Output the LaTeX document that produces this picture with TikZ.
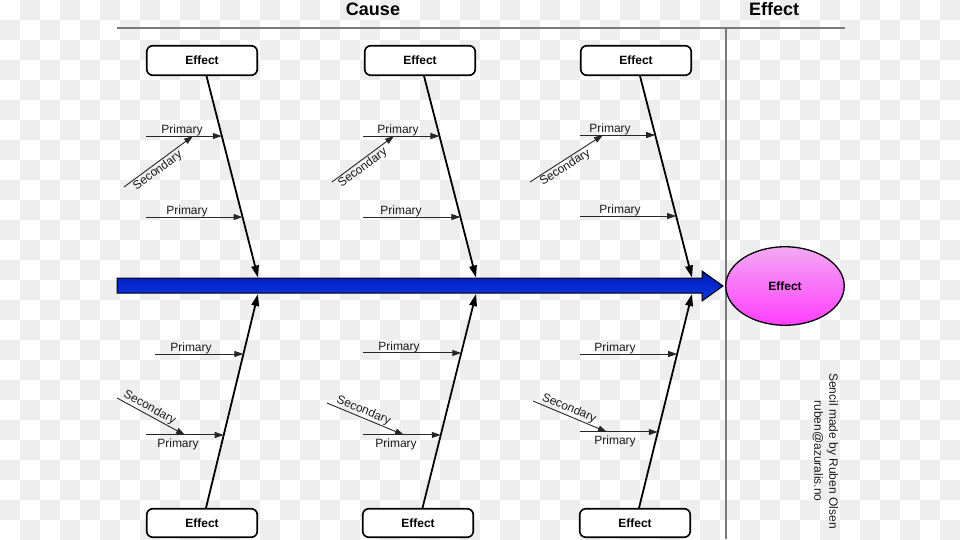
\documentclass[tikz,border=0pt]{standalone}
\usepackage{fontspec}
\setmainfont{Liberation Sans}
\usetikzlibrary{arrows.meta,calc,shapes.geometric}
\definecolor{chk}{HTML}{EEEEEE}
\definecolor{rulegray}{HTML}{7A7A7A}
\definecolor{spinetop}{HTML}{0018B4}
\definecolor{spinebot}{HTML}{0A3AE8}
\definecolor{pinktop}{HTML}{F3A8F3}
\definecolor{pinkbot}{HTML}{FF3EFF}
\begin{document}
\begin{tikzpicture}[x=1pt,y=-1pt,
  effbox/.style={draw=black,line width=1.6pt,rounded corners=6pt,fill=white,
    minimum width=110.5pt,minimum height=29.5pt,inner sep=0pt,
    font=\fontsize{12}{14}\selectfont\bfseries},
  bone/.style={draw=black,line width=1.8pt,-{Triangle[length=12pt,width=7.5pt]}},
  pri/.style={draw=black!85,line width=1pt,-{Triangle[length=9pt,width=6pt]}},
  sec/.style={draw=black!85,line width=0.9pt,-{Triangle[length=9pt,width=6pt]}},
  lbl/.style={font=\fontsize{12}{14}\selectfont,text=black!90,inner sep=0pt},
  ttl/.style={font=\fontsize{18}{20}\selectfont\bfseries,inner sep=0pt},
  rulel/.style={draw=rulegray,line width=1.5pt},
]
\useasboundingbox (0,0) rectangle (960,539);
\fill[white] (0,0) rectangle (960,539);
\begin{scope}
\clip (0,0) rectangle (960,539);
\foreach \j in {0,...,26}{
  \foreach \i in {0,...,47}{
    \ifodd\numexpr\i+\j\relax
      \fill[chk] (20*\i,20*\j) rectangle ++(20,20);
    \fi
  }
}
\end{scope}

% titles and rules
\node[ttl] (cause) at (373,9) {Cause};
\node[ttl] (efft) at (774,9) {Effect};
\coordinate (hl) at (117,28); \coordinate (hr) at (845,28);
\coordinate (vt) at (726,28); \coordinate (vb) at (726,539);
\draw[rulel] (hl) -- (hr);
\draw[rulel] (vt) -- (vb);

% spine
\coordinate (tip) at (723,286);
\draw[black,line width=1pt,top color=spinetop,bottom color=spinebot]
  (117,278) -- (702,278) -- (702,271) -- (tip) -- (702,301) -- (702,293) -- (117,293) -- cycle;

% effect ellipse
\node[ellipse,draw=black,line width=1.3pt,top color=pinktop,bottom color=pinkbot,
  minimum width=118.5pt,minimum height=78.5pt,inner sep=0pt,
  font=\fontsize{12}{14}\selectfont\bfseries] (eff) at (785,286) {Effect};

% boxes
\node[effbox] (e1) at (202,60.5) {Effect};
\node[effbox] (e2) at (420,60.5) {Effect};
\node[effbox] (e3) at (636,60.5) {Effect};
\node[effbox,minimum height=28.5pt] (f1) at (202,523) {Effect};
\node[effbox,minimum height=28.5pt] (f2) at (418,523) {Effect};
\node[effbox,minimum height=28.5pt] (f3) at (635,523) {Effect};

% spine attachment points
\coordinate (t1) at (258,277.5); \coordinate (t2) at (476,277.5); \coordinate (t3) at (692,277.5);
\coordinate (b1) at (258,294); \coordinate (b2) at (476,294); \coordinate (b3) at (692,294);
\coordinate (u1) at ([xshift=4.5pt]e1.south);
\coordinate (u2) at ([xshift=4pt]e2.south);
\coordinate (u3) at ([xshift=4pt]e3.south);
\coordinate (w1) at ([xshift=4pt]f1.north);
\coordinate (w2) at ([xshift=4.5pt]f2.north);
\coordinate (w3) at ([xshift=4pt]f3.north);

% bones
\draw[bone] (u1) -- (t1);
\draw[bone] (u2) -- (t2);
\draw[bone] (u3) -- (t3);
\draw[bone] (w1) -- (b1);
\draw[bone] (w2) -- (b2);
\draw[bone] (w3) -- (b3);

% points on bones
\coordinate (p1a) at ($(u1)!0.2978!(t1)$);
\coordinate (p1b) at ($(u1)!0.6998!(t1)$);
\coordinate (p2a) at ($(u2)!0.2978!(t2)$);
\coordinate (p2b) at ($(u2)!0.6998!(t2)$);
\coordinate (p3a) at ($(u3)!0.2928!(t3)$);
\coordinate (p3b) at ($(u3)!0.6948!(t3)$);
\coordinate (m1a) at ($(w1)!0.7196!(b1)$);
\coordinate (m1b) at ($(w1)!0.3411!(b1)$);
\coordinate (m2a) at ($(w2)!0.7243!(b2)$);
\coordinate (m2b) at ($(w2)!0.3411!(b2)$);
\coordinate (m3a) at ($(w3)!0.7196!(b3)$);
\coordinate (m3b) at ($(w3)!0.3551!(b3)$);

% primary starts
\coordinate (s1a) at (p1a -| 146,0);
\coordinate (s1b) at (p1b -| 146,0);
\coordinate (s2a) at (p2a -| 363,0);
\coordinate (s2b) at (p2b -| 363,0);
\coordinate (s3a) at (p3a -| 580,0);
\coordinate (s3b) at (p3b -| 580,0);
\coordinate (n1a) at (m1a -| 155,0);
\coordinate (n1b) at (m1b -| 146,0);
\coordinate (n2a) at (m2a -| 363,0);
\coordinate (n2b) at (m2b -| 363,0);
\coordinate (n3a) at (m3a -| 580,0);
\coordinate (n3b) at (m3b -| 580,0);

% secondary ends on primary lines
\coordinate (q1) at (193,136); \coordinate (r1) at (124,187);
\coordinate (q2) at (394,136); \coordinate (r2) at (332,182);
\coordinate (q3) at (603,135); \coordinate (r3) at (530,182);
\coordinate (q4) at (185,435); \coordinate (r4) at (117,398);
\coordinate (q5) at (404,435); \coordinate (r5) at (327,403);
\coordinate (q6) at (607,432); \coordinate (r6) at (533,401);

% primary arrows
\draw[pri] (s1a) -- (p1a);
\draw[pri] (s1b) -- (p1b);
\draw[pri] (s2a) -- (p2a);
\draw[pri] (s2b) -- (p2b);
\draw[pri] (s3a) -- (p3a);
\draw[pri] (s3b) -- (p3b);
\draw[pri] (n1a) -- (m1a);
\draw[pri] (n1b) -- (m1b);
\draw[pri] (n2a) -- (m2a);
\draw[pri] (n2b) -- (m2b);
\draw[pri] (n3a) -- (m3a);
\draw[pri] (n3b) -- (m3b);

% secondary arrows
\draw[sec] (r1) -- (q1) node[lbl,sloped,pos=0.43,below=1pt] (k1) {Secondary};
\draw[sec] (r2) -- (q2) node[lbl,sloped,pos=0.43,below=1pt] (k2) {Secondary};
\draw[sec] (r3) -- (q3) node[lbl,sloped,pos=0.43,below=1pt] (k3) {Secondary};
\draw[sec] (r4) -- (q4) node[lbl,sloped,pos=0.43,above=1pt] (k4) {Secondary};
\draw[sec] (r5) -- (q5) node[lbl,sloped,pos=0.44,above=1pt] (k5) {Secondary};
\draw[sec] (r6) -- (q6) node[lbl,sloped,pos=0.45,above=1pt] (k6) {Secondary};

% primary labels
\node[lbl,anchor=base] (l1a) at (182,133.5) {Primary};
\node[lbl,anchor=base] (l1b) at (187,214.5) {Primary};
\node[lbl,anchor=base] (l2a) at (398,133.5) {Primary};
\node[lbl,anchor=base] (l2b) at (401,214.5) {Primary};
\node[lbl,anchor=base] (l3a) at (610,132.5) {Primary};
\node[lbl,anchor=base] (l3b) at (620,213.5) {Primary};
\node[lbl,anchor=base] (o1a) at (191,351.5) {Primary};
\node[lbl,anchor=base] (o1b) at (178,447) {Primary};
\node[lbl,anchor=base] (o2a) at (399,350.5) {Primary};
\node[lbl,anchor=base] (o2b) at (396,447) {Primary};
\node[lbl,anchor=base] (o3a) at (615,351.5) {Primary};
\node[lbl,anchor=base] (o3b) at (615,444) {Primary};

% credit
\node[lbl,rotate=-90,align=center,font=\fontsize{12}{15}\selectfont] (credit) at (825.5,451)
  {Sencil made by Ruben Olsen\\ruben@azuralis.no};
\end{tikzpicture}
\end{document}
